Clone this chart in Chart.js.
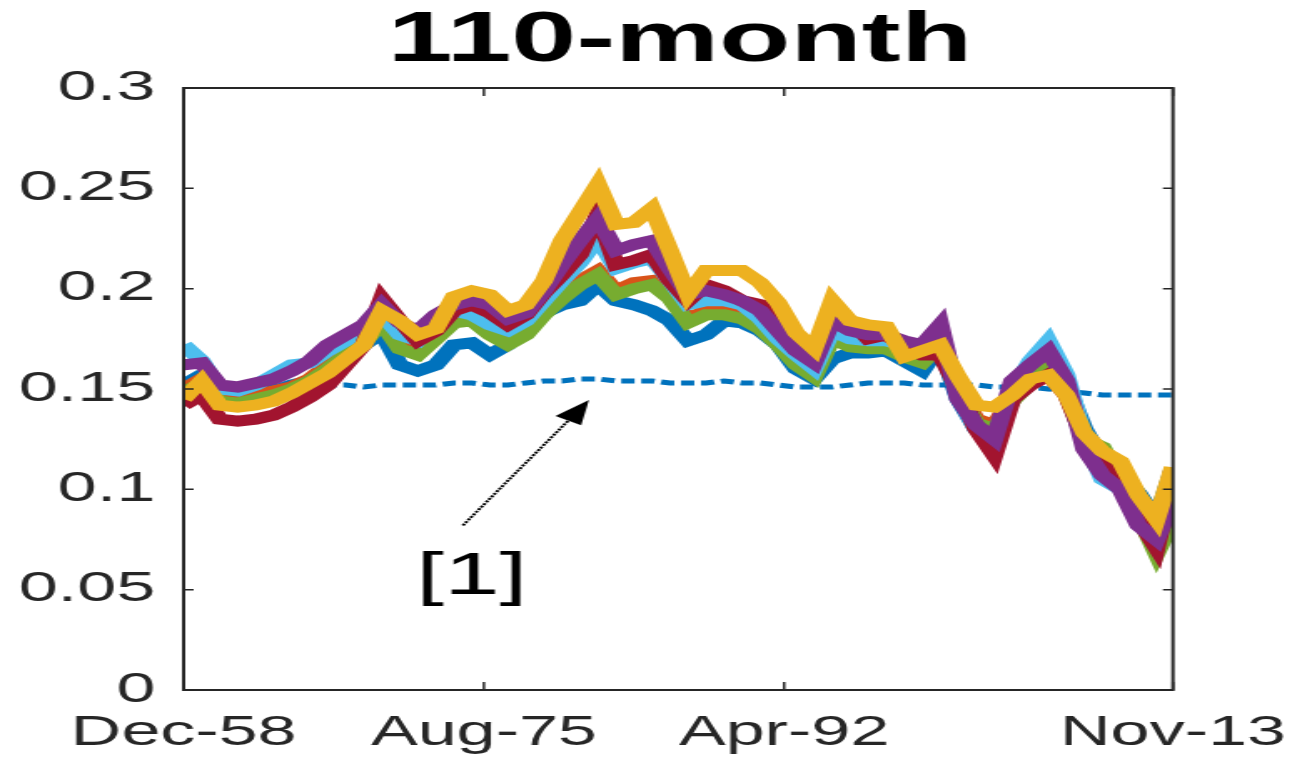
<!DOCTYPE html>
<html>
<head>
<meta charset="utf-8">
<script src="https://cdn.jsdelivr.net/npm/chart.js@4/dist/chart.umd.min.js"></script>
<style>
  html, body { margin: 0; padding: 0; background: #fff; overflow: hidden; }
  /* the reference figure is stretched sideways, so the whole chart is drawn narrow and scaled */
  #wrap { position: absolute; left: 0; top: 0; width: 783px; height: 759px; transform: scaleX(1.6692); transform-origin: 0 0; }
</style>
</head>
<body>
<div id="wrap"><canvas id="c"></canvas></div>
<script>
// months since Dec-58
const months = [0,12,24,36,48,60,72,84,96,108,120,132,144,156,168,180,192,204,216,228,240,252,264,276,288,300,312,324,336,348,360,372,384,396,408,420,432,444,456,468,480,492,504,516,528,540,552,564,576,588,600,612,624,636,648,659];
const tickMonths = [0, 200, 400, 659];
const tickLabels = ['Dec-58', 'Aug-75', 'Apr-92', 'Nov-13'];

const yellowSeries = [0.145,0.154,0.142,0.141,0.142,0.144,0.148,0.153,0.158,0.165,0.172,0.189,0.184,0.177,0.180,0.196,0.199,0.197,0.189,0.192,0.204,0.224,0.238,0.252,0.232,0.233,0.240,0.219,0.197,0.209,0.209,0.209,0.203,0.193,0.178,0.170,0.194,0.184,0.182,0.181,0.166,0.169,0.172,0.156,0.142,0.141,0.147,0.155,0.157,0.147,0.128,0.119,0.114,0.097,0.085,0.111];
const purpleSeries = [0.162,0.163,0.152,0.151,0.153,0.155,0.159,0.164,0.172,0.177,0.182,0.192,0.183,0.179,0.187,0.192,0.194,0.192,0.185,0.188,0.199,0.212,0.224,0.235,0.219,0.222,0.224,0.210,0.197,0.199,0.197,0.194,0.189,0.179,0.169,0.163,0.184,0.179,0.177,0.177,0.174,0.172,0.182,0.145,0.132,0.125,0.154,0.162,0.169,0.154,0.120,0.107,0.100,0.082,0.075,0.095];
const darkRedSeries = [0.142,0.147,0.135,0.134,0.135,0.137,0.141,0.146,0.152,0.162,0.172,0.195,0.184,0.174,0.179,0.189,0.192,0.188,0.182,0.187,0.198,0.207,0.217,0.237,0.212,0.214,0.217,0.204,0.194,0.202,0.199,0.194,0.192,0.182,0.172,0.165,0.189,0.184,0.175,0.177,0.171,0.167,0.167,0.150,0.130,0.117,0.145,0.152,0.157,0.147,0.125,0.112,0.105,0.085,0.071,0.105];
const lightBlueSeries = [0.172,0.164,0.150,0.149,0.152,0.157,0.162,0.163,0.169,0.174,0.179,0.187,0.177,0.174,0.184,0.189,0.187,0.182,0.179,0.184,0.194,0.204,0.213,0.225,0.210,0.213,0.215,0.204,0.192,0.194,0.194,0.192,0.185,0.175,0.167,0.160,0.179,0.175,0.174,0.174,0.172,0.169,0.179,0.147,0.130,0.125,0.149,0.164,0.174,0.157,0.125,0.105,0.100,0.095,0.085,0.100];
const greenSeries = [0.148,0.153,0.144,0.143,0.145,0.147,0.150,0.154,0.160,0.167,0.173,0.183,0.170,0.167,0.175,0.183,0.184,0.177,0.172,0.177,0.187,0.195,0.202,0.207,0.197,0.200,0.202,0.195,0.183,0.187,0.187,0.185,0.180,0.172,0.162,0.156,0.175,0.171,0.170,0.170,0.166,0.163,0.172,0.148,0.133,0.130,0.144,0.153,0.162,0.148,0.125,0.121,0.105,0.087,0.068,0.085];
const orangeSeries = [0.150,0.155,0.146,0.145,0.147,0.149,0.151,0.155,0.162,0.169,0.174,0.185,0.172,0.169,0.177,0.185,0.185,0.179,0.174,0.179,0.189,0.197,0.204,0.209,0.199,0.203,0.204,0.197,0.185,0.189,0.189,0.187,0.182,0.174,0.164,0.158,0.177,0.173,0.172,0.172,0.168,0.165,0.174,0.150,0.135,0.132,0.146,0.155,0.164,0.150,0.125,0.110,0.102,0.092,0.080,0.110];
const blueSeries = [0.152,0.157,0.147,0.146,0.147,0.149,0.152,0.154,0.159,0.167,0.172,0.178,0.162,0.159,0.162,0.172,0.173,0.167,0.172,0.184,0.188,0.192,0.194,0.202,0.194,0.192,0.189,0.184,0.174,0.177,0.184,0.183,0.179,0.172,0.160,0.155,0.165,0.168,0.168,0.169,0.164,0.159,0.172,0.145,0.130,0.127,0.145,0.155,0.164,0.152,0.130,0.115,0.107,0.098,0.085,0.110];
const benchmark = [0.150,0.151,0.151,0.152,0.152,0.152,0.152,0.152,0.152,0.152,0.151,0.152,0.152,0.152,0.152,0.153,0.153,0.152,0.152,0.153,0.154,0.154,0.155,0.155,0.154,0.154,0.154,0.153,0.153,0.153,0.154,0.153,0.153,0.152,0.151,0.151,0.151,0.152,0.153,0.153,0.153,0.152,0.152,0.152,0.152,0.151,0.151,0.151,0.150,0.149,0.148,0.147,0.147,0.147,0.147,0.147];

// annotation in data units: [month, value]
const note = { text: '[1]', at: [192, 0.056], from: [186, 0.082], to: [270, 0.1445] };

const axisColor = '#262626';
const font = 'Liberation Sans, Arial, Helvetica, sans-serif';

function line(label, values, color, width, dash) {
  return {
    label,
    data: months.map((m, i) => ({ x: m, y: values[i] })),
    borderColor: color,
    borderWidth: width,
    borderDash: dash || [],
    borderJoinStyle: 'miter',
    pointRadius: 0,
    tension: 0,
    fill: false
  };
}

const frame = {
  id: 'frame',
  afterDraw(chart) {
    const { ctx, chartArea: a, scales: { x, y } } = chart;
    ctx.save();
    ctx.strokeStyle = axisColor;
    ctx.lineWidth = 2;
    ctx.strokeRect(a.left, a.top, a.right - a.left, a.bottom - a.top);
    ctx.lineWidth = 1.5;
    ctx.beginPath();
    y.ticks.forEach(t => {
      const py = y.getPixelForValue(t.value);
      ctx.moveTo(a.left, py); ctx.lineTo(a.left + 6, py);
      ctx.moveTo(a.right, py); ctx.lineTo(a.right - 6, py);
    });
    x.ticks.forEach(t => {
      const px = x.getPixelForValue(t.value);
      ctx.moveTo(px, a.bottom); ctx.lineTo(px, a.bottom - 8);
      ctx.moveTo(px, a.top); ctx.lineTo(px, a.top + 8);
    });
    ctx.stroke();

    // title
    ctx.fillStyle = '#000';
    ctx.font = 'bold 70px ' + font;
    ctx.textAlign = 'center';
    ctx.textBaseline = 'middle';
    ctx.fillText('110-month', (a.left + a.right) / 2 + 1, 42);

    // arrow + label
    const x0 = x.getPixelForValue(note.from[0]), y0 = y.getPixelForValue(note.from[1]);
    const x1 = x.getPixelForValue(note.to[0]), y1 = y.getPixelForValue(note.to[1]);
    const ang = Math.atan2(y1 - y0, x1 - x0);
    const hl = 24, hw = 9;
    const bx = x1 - hl * Math.cos(ang), by = y1 - hl * Math.sin(ang);
    ctx.strokeStyle = '#000';
    ctx.lineWidth = 2;
    ctx.setLineDash([2, 1]);
    ctx.beginPath();
    ctx.moveTo(x0, y0); ctx.lineTo(bx, by);
    ctx.stroke();
    ctx.setLineDash([]);
    ctx.fillStyle = '#000';
    ctx.beginPath();
    ctx.moveTo(x1, y1);
    ctx.lineTo(bx + hw * Math.sin(ang), by - hw * Math.cos(ang));
    ctx.lineTo(bx - hw * Math.sin(ang), by + hw * Math.cos(ang));
    ctx.closePath();
    ctx.fill();
    ctx.font = '60px ' + font;
    ctx.fillText(note.text, x.getPixelForValue(note.at[0]), y.getPixelForValue(note.at[1]));
    ctx.restore();
  }
};

new Chart(document.getElementById('c'), {
  type: 'line',
  data: {
    datasets: [
      line('s7', yellowSeries, '#EDB120', 11),
      line('s4', purpleSeries, '#7E2F8E', 11),
      line('s6', darkRedSeries, '#A2142F', 11),
      line('s5', lightBlueSeries, '#4DBEEE', 11),
      line('s3', greenSeries, '#77AC30', 11),
      line('s2', orangeSeries, '#D95319', 11),
      line('s1', blueSeries, '#0072BD', 11),
      line('[1]', benchmark, '#0072BD', 5, [8, 4])
    ]
  },
  options: {
    responsive: true,
    maintainAspectRatio: false,
    animation: false,
    layout: { padding: { top: 88, right: 80.3, bottom: 0, left: 0 } },
    plugins: { legend: { display: false }, tooltip: { enabled: false }, title: { display: false } },
    scales: {
      x: {
        type: 'linear',
        min: 0,
        max: 659,
        grid: { display: false, drawTicks: false },
        border: { display: true, color: axisColor, width: 2 },
        afterBuildTicks: s => { s.ticks = tickMonths.map(v => ({ value: v })); },
        afterFit: s => { s.height = 69; s.paddingLeft = 40; s.paddingRight = 40; },
        ticks: {
          autoSkip: false,
          maxRotation: 0,
          padding: 18,
          color: axisColor,
          font: { family: font, size: 42 },
          callback: v => tickLabels[tickMonths.indexOf(v)]
        }
      },
      y: {
        min: 0,
        max: 0.3,
        grid: { display: false, drawTicks: false },
        border: { display: true, color: axisColor, width: 2 },
        afterFit: s => { s.width = 110; },
        ticks: {
          stepSize: 0.05,
          padding: 17,
          color: axisColor,
          font: { family: font, size: 42 },
          callback: v => String(+v.toFixed(2))
        }
      }
    }
  },
  plugins: [frame]
});
</script>
</body>
</html>
